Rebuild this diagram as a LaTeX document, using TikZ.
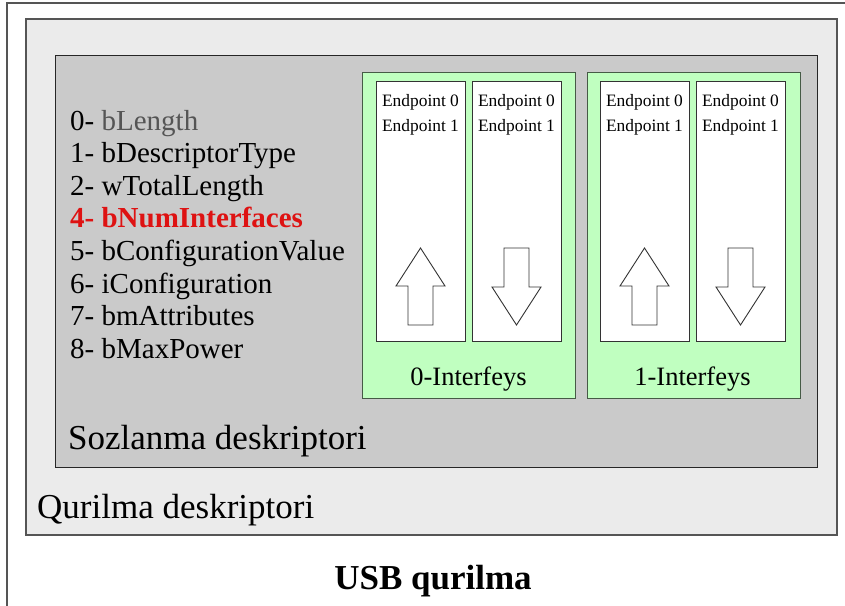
\documentclass[tikz,border=0pt]{standalone}
\usepackage{fontspec}
\setmainfont{Liberation Serif}
\usepackage{xcolor}
\usetikzlibrary{positioning}
\definecolor{framegray}{RGB}{85,85,85}
\definecolor{devfill}{RGB}{235,235,235}
\definecolor{cfgfill}{RGB}{202,202,202}
\definecolor{ifacefill}{RGB}{192,255,192}
\definecolor{ifaceline}{RGB}{70,90,70}
\definecolor{fieldgray}{RGB}{85,85,85}
\definecolor{numred}{RGB}{222,18,18}

\begin{document}
\begin{tikzpicture}[x=1pt, y=-1pt, node distance=7pt]
            \tikzstyle{devbox} = [rectangle, draw=framegray, line width=1.2pt, fill=devfill, minimum width=811pt, minimum height=516pt]
            \tikzstyle{cfgbox} = [rectangle, draw=black!85, line width=1pt, fill=cfgfill, minimum width=762pt, minimum height=412pt]
            \tikzstyle{ifacebox} = [rectangle, draw=ifaceline, line width=1pt, fill=ifacefill, minimum width=213pt, minimum height=326pt]
            \tikzstyle{epbox} = [rectangle, draw=black!80, line width=1pt, fill=white, minimum width=89pt, minimum height=260pt]
            \tikzstyle{eplabel} = [inner sep=0pt, outer sep=0pt, align=center, font=\fontsize{17.4}{25}\selectfont]
            \tikzstyle{ifacelabel} = [inner sep=0pt, anchor=base, font=\fontsize{26.5}{30}\selectfont]
            \tikzstyle{field} = [inner sep=0pt, anchor=base west, font=\fontsize{29}{33}\selectfont]
            \tikzstyle{desclabel} = [inner sep=0pt, anchor=base west, font=\fontsize{35}{40}\selectfont]
            \tikzstyle{blockarrow} = [draw=black!80, line width=0.9pt, fill=white, line join=miter]

            \useasboundingbox (0,0) rectangle (845,605);
            \clip (0,0) rectangle (845,605);
            \draw[framegray, line width=1.2pt] (7,3) rectangle (860,620);

            \node [devbox] (qurilma) at (431.5,277) {};
            \node [cfgbox] (sozlanma) at (436,261) {};
            \node [ifacebox] (iface0) at (468.5,235) {};
            \node [ifacebox, right=11pt of iface0] (iface1) {};

            \node [epbox] (ep0in) at (420.5,211) {};
            \node [epbox, right of=ep0in, node distance=96pt] (ep0out) {};
            \node [epbox] (ep1in) at (644.5,211) {};
            \node [epbox, right of=ep1in, node distance=96pt] (ep1out) {};

            \foreach \col in {ep0in, ep0out, ep1in, ep1out}
                \node [eplabel, below=14pt of \col.north] (\col txt) {Endpoint 0\\Endpoint 1};

            % IN arrows
            \foreach \col in {ep0in, ep1in}
                \draw [blockarrow, shift={(\col.center)}] (0,37) -- (24.5,75) -- (12.5,75) -- (12.5,114) -- (-12.5,114) -- (-12.5,75) -- (-24.5,75) -- cycle;
            % OUT arrows
            \foreach \col in {ep0out, ep1out}
                \draw [blockarrow, shift={(\col.center)}] (0,114) -- (24.5,76) -- (12.5,76) -- (12.5,37) -- (-12.5,37) -- (-12.5,76) -- (-24.5,76) -- cycle;

            \node [ifacelabel] (iface0txt) at (468.5,385) {0-Interfeys};
            \node [ifacelabel] (iface1txt) at (692.5,385) {1-Interfeys};

            \foreach \entry [count=\i from 0] in {{0- \textcolor{fieldgray}{bLength}}, {1- bDescriptorType}, {2- wTotalLength}, {\color{numred}\bfseries 4- bNumInterfaces}, {5- bConfigurationValue}, {6- iConfiguration}, {7- bmAttributes}, {8- bMaxPower}}
                \node [field] (field\i) at (70,{130+32.6*\i}) {\entry};

            \node [desclabel] (sozlanmatxt) at (68,449) {Sozlanma deskriptori};
            \node [desclabel] (qurilmatxt) at (37,518) {Qurilma deskriptori};
            \node [inner sep=0pt, anchor=base, font=\fontsize{35}{40}\selectfont\bfseries] (usbtxt) at (433,589) {USB qurilma};
        \end{tikzpicture}
\end{document}
